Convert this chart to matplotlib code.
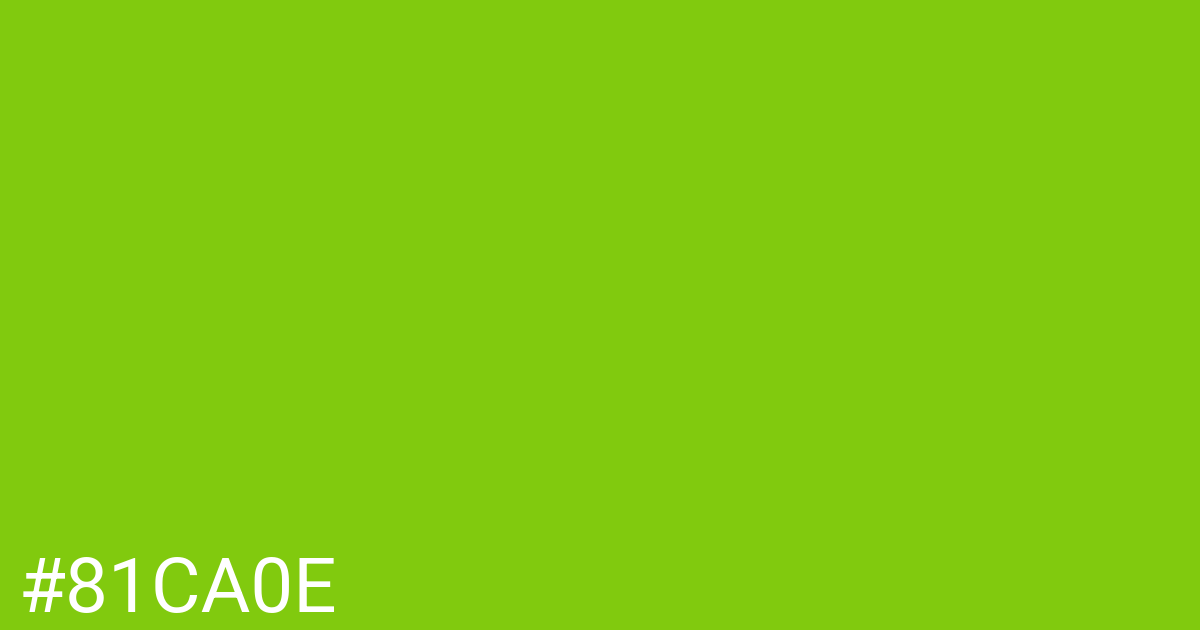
from matplotlib import pyplot as plt

# the swatch colour and its label
swatch_hex = '#81CA0E'
label_text = swatch_hex

fig = plt.figure(figsize=(12, 6.3), dpi=100)
fig.patch.set_facecolor(swatch_hex)

# label in bottom-left corner, baseline at about y=612px
fig.text(19 / 1200, (630 - 612) / 630, label_text, color='white',
         fontsize=55, family=['Roboto', 'DejaVu Sans'],
         ha='left', va='baseline')

fig.savefig('out.png', dpi=100, facecolor=fig.get_facecolor())
